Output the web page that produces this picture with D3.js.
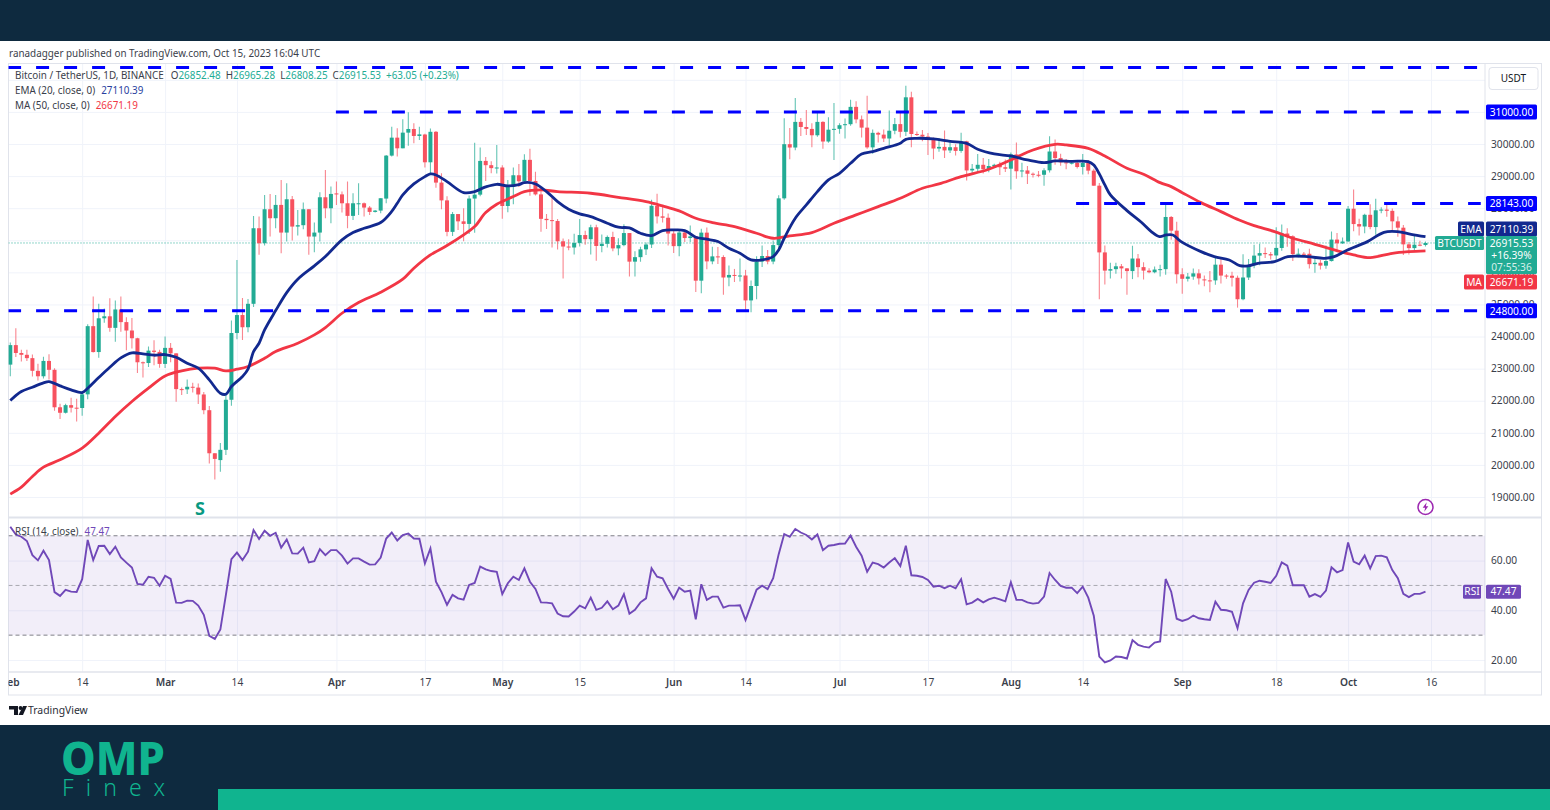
<!DOCTYPE html>
<html>
<head>
<meta charset="utf-8">
<script src="https://d3js.org/d3.v7.min.js"></script>
<style>
  html, body { margin: 0; padding: 0; background: #fff; }
  svg { display: block; }
  text { font-family: "Noto Sans", sans-serif; }
</style>
</head>
<body>
<div class="canva"></div>
<script>
// daily candles, Feb 1 -> Oct 15
const openValues = [
  23125,23733,23488,23431,23327,22932,22762,23240,22963,21796,
  21625,21862,21783,21773,22199,24324,23517,24569,24631,24271,
  24844,24450,24188,23947,23198,23175,23561,23522,23147,23647,
  23476,22362,22354,22435,22409,22195,21705,20363,20150,20470,
  22030,24110,24670,24290,25020,27375,26908,27967,27687,28102,
  27240,28278,27427,27470,27967,27116,27240,28340,27998,28460,
  28430,28153,27760,28142,28153,28019,27884,27925,28299,29638,
  30198,29866,30354,30468,30250,30295,29430,30380,28797,28243,
  27262,27817,27590,27510,28300,28422,29473,29340,29248,29268,
  28068,28669,29026,28838,29506,28848,28430,27668,27628,27600,
  26968,26805,26775,26917,27163,27033,27405,26822,26890,27103,
  26747,26849,27225,26334,26474,26717,26868,28075,27745,27702,
  27210,26817,27242,27070,27120,25741,27238,26342,26498,26478,
  25840,25920,25896,25902,25126,25575,26337,26510,26337,26850,
  28307,29994,29890,30689,30530,30470,30272,30689,30077,30446,
  30472,30586,30617,31157,30767,30510,29895,30348,30292,30171,
  30414,30620,30380,31455,30312,30289,30231,30138,29859,29910,
  29800,29900,29785,30083,29176,29228,29352,29212,29314,29352,
  29275,29230,29675,29151,29176,29073,29042,29041,29180,29766,
  29561,29428,29397,29416,29283,29408,29170,28701,26622,26054,
  26100,26189,26124,26040,26431,26163,26054,26003,26087,26100,
  27726,27299,25940,25800,25868,25969,25781,25750,25750,26240,
  25900,25895,25832,25162,25840,26222,26522,26600,26568,26527,
  26760,27210,27125,26568,26580,26579,26256,26299,26209,26352,
  27021,26906,26962,27983,27505,27429,27794,27412,27934,27956,
  27917,27590,27392,26873,26756,26862,26852.48
];
const highValues = [
  23812,24255,23590,23590,23440,23150,23367,23450,23011,21906,
  21906,22090,22060,22293,24380,25250,25021,24876,25195,25126,
  25250,24600,24580,23959,23219,23689,23886,23590,24000,23796,
  23476,22410,22660,22560,22540,22275,21834,20367,20680,22230,
  24500,26386,25200,25170,27756,27738,28413,28444,28413,28880,
  28776,28382,27946,28174,27967,27552,28500,29192,28673,28828,
  28517,28828,28465,28776,28174,28070,27946,28310,29660,30541,
  30489,30769,30987,30645,30541,30320,30485,30408,29088,28374,
  27882,27817,28000,28399,30036,29890,29595,29460,29969,29338,
  28879,29266,29379,29677,29849,29138,28631,27820,28336,27659,
  27057,27030,27200,27666,27299,27485,27485,27183,27150,27268,
  27063,27500,27225,26655,26800,26934,28260,28447,28047,27834,
  27350,27330,27330,27460,27135,27356,27400,26800,26790,26534,
  26212,26107,26433,26078,25750,26500,26840,26700,26990,28400,
  30800,30500,31431,30808,31060,30650,31000,30708,30835,31280,
  30650,30795,31380,31330,30890,31500,30449,30380,30450,31045,
  30814,30985,31818,31630,30390,30440,30340,30200,30185,30417,
  30050,29993,30350,30099,29376,29690,29567,29530,29388,29449,
  29519,29736,30047,29412,29311,29115,29160,29244,30244,30137,
  29700,29530,29480,29473,29690,29490,29232,28781,26838,26299,
  26300,26260,26138,26830,26575,26315,26125,26180,26240,28142,
  27760,27576,26125,25980,26121,26100,25900,26040,26450,26430,
  25945,26020,25900,26567,26417,26860,26888,26777,26631,27409,
  27490,27374,27157,26743,26632,26738,26432,26389,26835,27270,
  27225,27085,28065,28580,27670,27830,28120,28295,28029,28114,
  27987,27740,27477,26947,27130,26989,26965.28
];
const lowValues = [
  22760,23363,23220,23240,22755,22630,22690,22665,21688,21430,
  21599,21630,21351,21532,22047,23505,23339,24430,24148,23840,
  24150,23574,23627,22861,22722,23050,23106,23026,23021,23200,
  21971,22180,22212,22258,21900,21580,20042,19549,19790,20310,
  21840,23915,23895,24130,24920,26545,26836,27116,27375,26597,
  26960,26991,27147,27344,26545,26628,26960,27687,27531,28102,
  27863,27375,27635,27790,27739,27790,27863,27842,28154,29607,
  29607,29866,29949,30022,30126,29267,29096,28637,27964,27125,
  27130,27320,26968,27192,27235,28375,28850,29088,29077,27667,
  27872,28120,28663,28800,28385,28395,27262,27353,26777,26715,
  25811,26692,26560,26806,26864,26555,26360,26630,26777,26661,
  26530,26810,25871,25870,26331,26542,26760,27520,27550,26841,
  26605,26505,26950,26950,25388,25350,26100,26250,26258,25300,
  25570,25700,25712,24800,24756,25160,26170,26250,26250,26656,
  28266,29525,29809,30250,30280,29900,30226,29850,30040,29500,
  30320,30175,30570,30650,30200,29850,29700,30045,30060,29950,
  30300,30200,30250,29900,30250,30087,29659,29525,29762,29565,
  29720,29640,29730,28861,29047,29096,29083,29123,29262,29033,
  29131,28585,28920,28960,28750,28958,28964,28701,29113,29352,
  29320,29210,29360,29240,29050,29055,28700,25166,25619,25812,
  25960,25812,25300,25790,25850,25777,25973,25970,25873,25922,
  27014,25655,25333,25714,25770,25620,25570,25380,25615,25650,
  25800,25560,24901,25131,25761,26126,26224,26445,26398,26377,
  26674,26800,26352,26468,26509,26122,25990,26090,26112,26338,
  26667,26884,26954,27280,27150,27215,27340,27175,27843,27730,
  27260,27111,26538,26560,26685,26810,26808.25
];
const closeValues = [
  23733,23488,23431,23327,22932,22762,23240,22963,21796,21625,
  21862,21783,21773,22199,24324,23517,24569,24631,24271,24844,
  24450,24188,23947,23198,23175,23561,23522,23147,23647,23476,
  22362,22354,22435,22409,22195,21705,20363,20187,20470,22030,
  24110,24670,24290,25020,27375,26908,27967,27687,28102,27240,
  28278,27427,27470,27967,27116,27240,28340,27998,28444,28430,
  28153,27760,28153,28153,28019,27884,27925,28310,29638,30198,
  29866,30354,30468,30250,30300,29430,30380,28797,28243,27262,
  27817,27590,27510,28300,28422,29473,29340,29248,29268,28068,
  28669,29026,28838,29506,28848,28430,27668,27628,27600,26968,
  26805,26775,26917,27163,27033,27405,26822,26890,27103,26747,
  26849,27225,26334,26474,26717,26868,28075,27745,27702,27210,
  26817,27242,27070,27120,25741,27238,26342,26498,26478,25840,
  25920,25896,25902,25126,25575,26337,26510,26337,26850,28307,
  29994,29890,30689,30530,30470,30272,30689,30077,30446,30472,
  30586,30617,31157,30767,30510,29895,30348,30292,30171,30414,
  30620,30380,31455,30312,30289,30231,30138,29859,29910,29800,
  29900,29785,30083,29176,29228,29352,29212,29314,29352,29275,
  29230,29675,29151,29176,29073,29042,29041,29180,29766,29561,
  29428,29397,29416,29283,29408,29170,28701,26622,26054,26100,
  26189,26124,26040,26431,26163,26054,26003,26087,26100,27726,
  27299,25940,25800,25868,25969,25813,25750,25745,26240,25900,
  25895,25832,25162,25840,26222,26522,26600,26568,26527,26762,
  27210,27125,26568,26580,26579,26256,26299,26211,26352,27021,
  26906,26962,27983,27505,27429,27794,27412,27934,27956,27917,
  27590,27392,26873,26756,26862,26852,26915.53
];

// EMA 20, readings at the day positions in emaDays
const emaDays = [0,2,4,6,7,9,11,13,14,16,18,20,22,24,26,28,30,32,34,36,38,39,40,42,43,44,45,46,48,50,52,55,57,60,62,64,67,69,70,71,73,75,76,77,79,82,84,86,88,90,92,93,95,97,99,101,103,105,108,110,112,114,116,118,120,122,124,126,128,130,132,134,136,138,139,140,142,144,146,148,150,152,154,156,158,160,161,162,164,167,170,173,175,178,181,184,187,189,192,195,196,197,198,199,202,204.6,206.4,207.9,209.1,210.3,211.8,215.4,217.8,220.5,222.4,223.9,225.7,228.7,231.1,234.7,237.7,239.5,241.9,245.5,248.5,250.9,253.4,256];
const emaValues = [22006,22287,22422,22557,22598,22463,22339,22255,22390,22723,23044,23335,23491,23460,23418,23439,23355,23169,23013,22650,22235,22203,22442,22753,22982,23532,23792,24207,24809,25370,25787,26202,26493,27012,27240,27375,27552,27900,28153,28413,28755,28984,29067,29036,28828,28486,28517,28662,28745,28693,28735,28797,28755,28517,28205,27967,27821,27738,27530,27406,27385,27219,27147,27302,27323,27302,27095,27032,26960,26752,26596,26389,26389,26492,26700,27063,27686,28102,28517,28880,29088,29399,29690,29762,29866,29960,30022,30146,30178,30157,30084,30022,29835,29690,29627,29503,29420,29472,29461,29451,29347,29067,28724,28413,27925,27560,27270,27113,27166,27166,26958,26646,26490,26387,26210,26200,26283,26335,26490,26490,26438,26490,26698,26958,27249,27270,27186,27110.39];

// MA 50
const maDays = [0,2,4,6,9,13,16,19,22,25,28,31,34,37,39,41,43,46,48,52,55,57,60,63,67,71,73,76,79,82,84,86,88,91,93,96,99,105,110,115,118,121,124,127,131,135,138,141,145,149,153,157,161,165,168,172,177,181,185,189,191,195,198,202,205,208,210,212,215.4,219,222.3,225,228.7,232,236,239.5,243,246,250,253,256];
const maValues = [19090,19307,19640,19930,20159,20522,20989,21508,21975,22390,22774,22930,23013,23013,22930,22982,23065,23325,23532,23792,24051,24280,24726,25058,25380,25787,26129,26544,26835,27167,27427,27863,28122,28361,28517,28569,28517,28465,28340,28205,28070,27915,27686,27551,27427,27219,27063,27136,27240,27530,27790,28050,28309,28620,28755,28984,29212,29503,29814,29990,29970,29866,29627,29243,29060,28796,28671,28484,28173,27892,27632,27456,27270,27062,26875,26698,26543,26460,26595,26646,26671.19];

const rsiValues = [
  73.6,70.5,69.6,67.9,62.2,60.1,64,60.2,47.3,45.8,
  48.2,47.5,47.4,52.5,68.3,60.2,65.9,66,62.6,65.6,
  61.3,59.2,57.2,50.6,50.3,53.5,53.1,49.9,53.9,52.6,
  43.1,43,43.9,43.8,41.9,38.2,29.7,28.5,32.3,46.2,
  60.6,63.2,60.2,63.6,72.3,68.7,72,70,71.2,65.2,
  68.5,62.9,62.8,65.2,59.3,59.8,64.6,62.2,64.2,64.2,
  62,58.8,60.9,60.9,59.6,58.4,58.5,61.2,68.9,71.3,
  68.1,70.3,70.9,68.9,68.8,58.9,64.9,51.5,47.3,42.2,
  46.2,44.8,44.3,50.2,51,57.6,56.5,55.8,55.5,46.5,
  50.9,53.5,52.2,56.9,51.5,48.6,43.2,43.1,42.8,38.7,
  37.6,37.5,39.5,41.9,40.8,45.1,40.2,41,43.6,40.4,
  41.9,46.5,38.6,40.2,43.2,44.8,56.9,53.5,52.9,48.6,
  44.7,49.1,47.5,47.9,36.4,50.5,44.2,45.5,45.5,41.1,
  41.9,41.9,42,36.1,42.2,48.3,49.9,48.5,52.9,62.6,
  70.7,69.6,72.7,71.3,70.3,68.5,70.5,64.2,66,66.3,
  66.8,66.9,70.1,65.6,62,55.5,59.2,58.6,57.2,59.2,
  61,57.8,66,54.1,53.9,53.4,52.2,49.5,49.9,48.9,
  49.9,48.9,52.5,42.4,43.1,44.6,43.2,44.4,45.1,44.4,
  43.6,51.3,44.2,44.2,43.2,42.7,43,45.5,55,52.2,
  49.8,49.1,49.1,46.9,49.5,45.1,37.8,21.4,19,19.8,
  21.4,21.2,20.6,28,26.1,25.4,25,27,27.5,52.6,
  47.5,36.6,35.7,36.4,37.9,36.8,36.4,36.1,43.5,40.2,
  40,39.4,32.8,42.8,48.2,51.1,51.9,51.5,51,53.9,
  59.3,58,50.1,50.1,50.1,45.5,46.5,45.4,47.9,57.3,
  55.3,56.2,67.3,59.6,58.5,62,56.9,61.8,62,61.3,
  56.2,52.9,46.6,45.3,46.6,46.6,47.47
];

const priceTicks = [19000,20000,21000,22000,23000,24000,25000,26000,27000,28000,29000,30000,31000,32000];
const rsiTicks = [20,40,60];
const rsiBand = [30,50,70];
const timeDays = [0,13,28,41,59,75,89,103,120,133,150,166,181,194,212,229,242,257];
const timeLabels = ['Feb','14','Mar','14','Apr','17','May','15','Jun','14','Jul','17','Aug','14','Sep','18','Oct','16'];
const boldLabels = ['Feb','Mar','Apr','May','Jun','Jul','Aug','Sep','Oct'];

// hand drawn levels: price and the day where the line starts
const levelValues = [32383,31000,28143,24800];
const levelStart = [-0.4,58.9,192.8,-0.4];

const teal = '#22ab94', red = '#f7525f', navy = '#0e2a3f', mint = '#10b48f';
const blue = '#0000ff', emaColor = '#12298f', maColor = '#f23645', rsiColor = '#7048b8';
const gridColor = '#f0f3fa', borderColor = '#e0e3eb', axisText = '#3a3e4a';

const svg = d3.select('.canva').append('svg').attr('width', 1550).attr('height', 810);

const chart = {left: 8.5, right: 1485, top: 64, paneBottom: 517.5, rsiTop: 518.5, rsiBottom: 672, bottom: 695, outer: 1541.5};

const x = d3.scaleLinear().domain([0, 257]).range([10.3, 1431]);
const y = d3.scaleLinear().domain([19000, 30000]).range([497, 144]);
const yRsi = d3.scaleLinear().domain([20, 60]).range([660, 560.6]);

svg.append('rect').attr('width', 1550).attr('height', 810).attr('fill', '#fff');

// clip regions
const defs = svg.append('defs');
defs.append('clipPath').attr('id', 'clip-price').append('rect')
  .attr('x', chart.left).attr('y', chart.top).attr('width', chart.right - chart.left).attr('height', chart.paneBottom - chart.top);
defs.append('clipPath').attr('id', 'clip-rsi').append('rect')
  .attr('x', chart.left).attr('y', chart.rsiTop).attr('width', chart.right - chart.left).attr('height', chart.rsiBottom - chart.rsiTop);
defs.append('clipPath').attr('id', 'clip-time').append('rect')
  .attr('x', chart.left).attr('y', chart.rsiBottom).attr('width', chart.right - chart.left).attr('height', chart.bottom - chart.rsiBottom);

// grids
const gridX = d3.axisBottom(x).tickValues(timeDays.slice(1)).tickFormat('').tickSize(chart.rsiBottom - chart.top);
svg.append('g').attr('class', 'grid').attr('transform', `translate(0,${chart.top})`).call(gridX);
const gridY = d3.axisRight(y).tickValues(priceTicks).tickFormat('').tickSize(chart.right - chart.left);
svg.append('g').attr('class', 'grid').attr('transform', `translate(${chart.left},0)`).call(gridY);
const gridRsi = d3.axisRight(yRsi).tickValues(rsiTicks).tickFormat('').tickSize(chart.right - chart.left);
svg.append('g').attr('class', 'grid').attr('transform', `translate(${chart.left},0)`).call(gridRsi);
svg.selectAll('.grid .domain').remove();
svg.selectAll('.grid line').attr('stroke', gridColor).attr('stroke-width', 1);

// frame
const frame = svg.append('g').attr('fill', 'none').attr('stroke', borderColor);
frame.append('rect').attr('x', chart.left).attr('y', chart.top - 0.5).attr('width', chart.outer - chart.left).attr('height', chart.bottom - chart.top + 0.5);
frame.append('line').attr('x1', chart.right).attr('x2', chart.right).attr('y1', chart.top).attr('y2', chart.bottom);
frame.append('line').attr('x1', chart.left).attr('x2', chart.outer).attr('y1', chart.paneBottom).attr('y2', chart.paneBottom).attr('stroke-width', 2);
frame.append('line').attr('x1', chart.left).attr('x2', chart.outer).attr('y1', chart.rsiBottom).attr('y2', chart.rsiBottom).attr('stroke-width', 1.5);

// price pane
const pricePane = svg.append('g').attr('clip-path', 'url(#clip-price)');

pricePane.append('line').attr('x1', chart.left).attr('x2', x(256) + 10)
  .attr('y1', y(closeValues[256])).attr('y2', y(closeValues[256]))
  .attr('stroke', teal).attr('stroke-width', 1).attr('stroke-dasharray', '1 2');

const candles = pricePane.selectAll('g.candle').data(openValues).join('g').attr('class', 'candle');
candles.append('line')
  .attr('x1', (d, i) => x(i)).attr('x2', (d, i) => x(i))
  .attr('y1', (d, i) => y(highValues[i])).attr('y2', (d, i) => y(lowValues[i]))
  .attr('stroke', (d, i) => closeValues[i] >= d ? teal : red)
  .attr('stroke-opacity', 0.7).attr('stroke-width', 1.1);
candles.append('rect')
  .attr('x', (d, i) => x(i) - 2).attr('width', 4)
  .attr('y', (d, i) => y(Math.max(d, closeValues[i])))
  .attr('height', (d, i) => Math.max(1, Math.abs(y(d) - y(closeValues[i]))))
  .attr('fill', (d, i) => closeValues[i] >= d ? teal : red);

const avgLine = d3.line().x(d => x(d[0])).y(d => y(d[1])).curve(d3.curveCatmullRom.alpha(0.5));
pricePane.append('path').attr('d', avgLine(d3.zip(maDays, maValues)))
  .attr('fill', 'none').attr('stroke', maColor).attr('stroke-width', 2.8);
pricePane.append('path').attr('d', avgLine(d3.zip(emaDays, emaValues)))
  .attr('fill', 'none').attr('stroke', emaColor).attr('stroke-width', 2.8);

pricePane.selectAll('line.level').data(levelValues).join('line').attr('class', 'level')
  .attr('x1', (d, i) => x(levelStart[i])).attr('x2', x(266))
  .attr('y1', d => y(d)).attr('y2', d => y(d))
  .attr('stroke', blue).attr('stroke-width', 3).attr('stroke-dasharray', '13 15');

pricePane.append('text').attr('x', 200).attr('y', 515).attr('text-anchor', 'middle')
  .attr('font-size', 18).attr('font-weight', 700).attr('fill', '#089981').text('S');

// lightning badge
const badge = svg.append('g').attr('transform', 'translate(1425.5,507)');
badge.append('circle').attr('r', 7.5).attr('fill', '#fff').attr('stroke', '#9c27b0').attr('stroke-width', 1.5);
badge.append('path').attr('d', 'M1.2,-4.8 L-2.8,0.8 L-0.4,0.8 L-1.2,4.8 L2.8,-0.8 L0.4,-0.8 Z').attr('fill', '#9c27b0');

// rsi pane
const rsiPane = svg.append('g').attr('clip-path', 'url(#clip-rsi)');
rsiPane.append('rect').attr('x', chart.left).attr('width', chart.right - chart.left)
  .attr('y', yRsi(70)).attr('height', yRsi(30) - yRsi(70)).attr('fill', '#7e57c2').attr('fill-opacity', 0.1);
rsiPane.selectAll('line.band').data(rsiBand).join('line').attr('class', 'band')
  .attr('x1', chart.left).attr('x2', chart.right)
  .attr('y1', d => yRsi(d)).attr('y2', d => yRsi(d))
  .attr('stroke', d => d === 50 ? '#a8a8b0' : '#808088').attr('stroke-width', 1).attr('stroke-dasharray', '4 3');
rsiPane.append('path')
  .attr('d', d3.line().x((d, i) => x(i)).y(d => yRsi(d))(rsiValues))
  .attr('fill', 'none').attr('stroke', rsiColor).attr('stroke-width', 1.9);

// axes
const priceAxis = d3.axisRight(y).tickValues(priceTicks.slice(0, -1)).tickFormat(d3.format('.2f')).tickSize(0).tickPadding(6);
const gPrice = svg.append('g').attr('transform', `translate(${chart.right},0)`).call(priceAxis);
const rsiAxis = d3.axisRight(yRsi).tickValues(rsiTicks).tickFormat(d3.format('.2f')).tickSize(0).tickPadding(6);
const gRsi = svg.append('g').attr('transform', `translate(${chart.right},0)`).call(rsiAxis);
const timeAxis = d3.axisBottom(x).tickValues(timeDays).tickFormat((d, i) => timeLabels[i]).tickSize(0).tickPadding(7);
const gTime = svg.append('g').attr('clip-path', 'url(#clip-time)').append('g')
  .attr('transform', `translate(0,${chart.rsiBottom})`).call(timeAxis);
[gPrice, gRsi, gTime].forEach(g => {
  g.select('.domain').remove();
  g.selectAll('text').attr('font-family', '"Noto Sans", sans-serif').attr('font-size', 10.2).attr('fill', axisText);
});
gTime.selectAll('text').attr('font-weight', (d, i) => boldLabels.includes(timeLabels[i]) ? 600 : 400);

// currency box
svg.append('rect').attr('x', 1489).attr('y', 67.5).attr('width', 49).attr('height', 22).attr('rx', 3)
  .attr('fill', '#fff').attr('stroke', borderColor);
svg.append('text').attr('x', 1513.5).attr('y', 82).attr('text-anchor', 'middle').attr('font-size', 10).attr('fill', '#131722').text('USDT');

function tag(xLeft, yMid, w, h, fill, label, color) {
  svg.append('rect').attr('x', xLeft).attr('y', yMid - h / 2).attr('width', w).attr('height', h).attr('rx', 1.5).attr('fill', fill);
  svg.append('text').attr('x', xLeft + w / 2).attr('y', yMid + 3.7).attr('text-anchor', 'middle')
    .attr('font-size', 10.2).attr('fill', color || '#fff').text(label);
}

// level tags
[31000, 28143, 24800].forEach(v => tag(1486, y(v), 51, 15, blue, d3.format('.2f')(v)));

// ema and ma tags, pushed apart from the last price block
tag(1458, 229, 26, 15, emaColor, 'EMA');
tag(1486, 229, 51, 15, emaColor, '27110.39');
tag(1464, 282, 20, 15, maColor, 'MA');
tag(1486, 282, 51, 15, maColor, '26671.19');

// last price tag
tag(1435, y(closeValues[256]), 49, 14, teal, 'BTCUSDT');
svg.append('rect').attr('x', 1486).attr('y', 236).attr('width', 51).attr('height', 38).attr('rx', 1.5).attr('fill', teal);
svg.append('text').attr('x', 1511.5).attr('y', 247).attr('text-anchor', 'middle').attr('font-size', 10.2).attr('fill', '#fff').text('26915.53');
svg.append('text').attr('x', 1511.5).attr('y', 259).attr('text-anchor', 'middle').attr('font-size', 10.2).attr('fill', '#fff').text('+16.39%');
svg.append('text').attr('x', 1511.5).attr('y', 271).attr('text-anchor', 'middle').attr('font-size', 10.2).attr('fill', '#d5f0ea').text('07:55:36');

// rsi tag
tag(1463, yRsi(rsiValues[256]), 18, 14, rsiColor, 'RSI');
tag(1486, yRsi(rsiValues[256]), 35, 14, rsiColor, '47.47');

// legends
const legend = svg.append('g').attr('font-size', 9.9).attr('fill', '#3a3e4a');
const ohlc = legend.append('text').attr('x', 15).attr('y', 79);
ohlc.append('tspan').text('Bitcoin / TetherUS, 1D, BINANCE');
[['O', '26852.48'], ['H', '26965.28'], ['L', '26808.25'], ['C', '26915.53']].forEach((d, i) => {
  ohlc.append('tspan').attr('dx', i === 0 ? 7 : 5).text(d[0]);
  ohlc.append('tspan').attr('fill', teal).text(d[1]);
});
ohlc.append('tspan').attr('dx', 5).attr('fill', teal).text('+63.05 (+0.23%)');
const emaLegend = legend.append('text').attr('x', 15).attr('y', 94);
emaLegend.append('tspan').text('EMA (20, close, 0)');
emaLegend.append('tspan').attr('dx', 6).attr('fill', '#2a3fa0').text('27110.39');
const maLegend = legend.append('text').attr('x', 15).attr('y', 109);
maLegend.append('tspan').text('MA (50, close, 0)');
maLegend.append('tspan').attr('dx', 6).attr('fill', maColor).text('26671.19');
const rsiLegend = legend.append('text').attr('x', 15).attr('y', 535);
rsiLegend.append('tspan').text('RSI (14, close)');
rsiLegend.append('tspan').attr('dx', 6).attr('fill', rsiColor).text('47.47');

svg.append('text').attr('x', 9).attr('y', 57).attr('font-size', 9.9).attr('fill', '#3a3e4a')
  .text('ranadagger published on TradingView.com, Oct 15, 2023 16:04 UTC');

// tradingview mark
const mark = svg.append('g').attr('fill', '#131722');
mark.append('path').attr('d', 'M9 706 h9 v9 h-4 v-5.5 h-5 z');
mark.append('circle').attr('cx', 20.5).attr('cy', 708).attr('r', 1.9);
mark.append('path').attr('d', 'M23 706 h4 l-4 9 h-4.5 z');
svg.append('text').attr('x', 28).attr('y', 714).attr('font-size', 10.4).attr('fill', '#2a2e39').text('TradingView');

// branding bands
svg.append('rect').attr('width', 1550).attr('height', 41).attr('fill', navy);
svg.append('rect').attr('y', 725).attr('width', 1550).attr('height', 85).attr('fill', navy);
svg.append('rect').attr('x', 218).attr('y', 789).attr('width', 1332).attr('height', 21).attr('fill', mint);
svg.append('text').attr('x', 61).attr('y', 775).attr('font-family', 'Inter, sans-serif').attr('font-size', 46).attr('font-weight', 800)
  .attr('textLength', 104).attr('lengthAdjust', 'spacingAndGlyphs').attr('fill', mint).text('OMP');
svg.append('text').attr('x', 62).attr('y', 796).attr('font-family', 'Inter, sans-serif').attr('font-size', 23).attr('font-weight', 300)
  .attr('textLength', 103).attr('fill', mint).text('Finex');
</script>
</body>
</html>
